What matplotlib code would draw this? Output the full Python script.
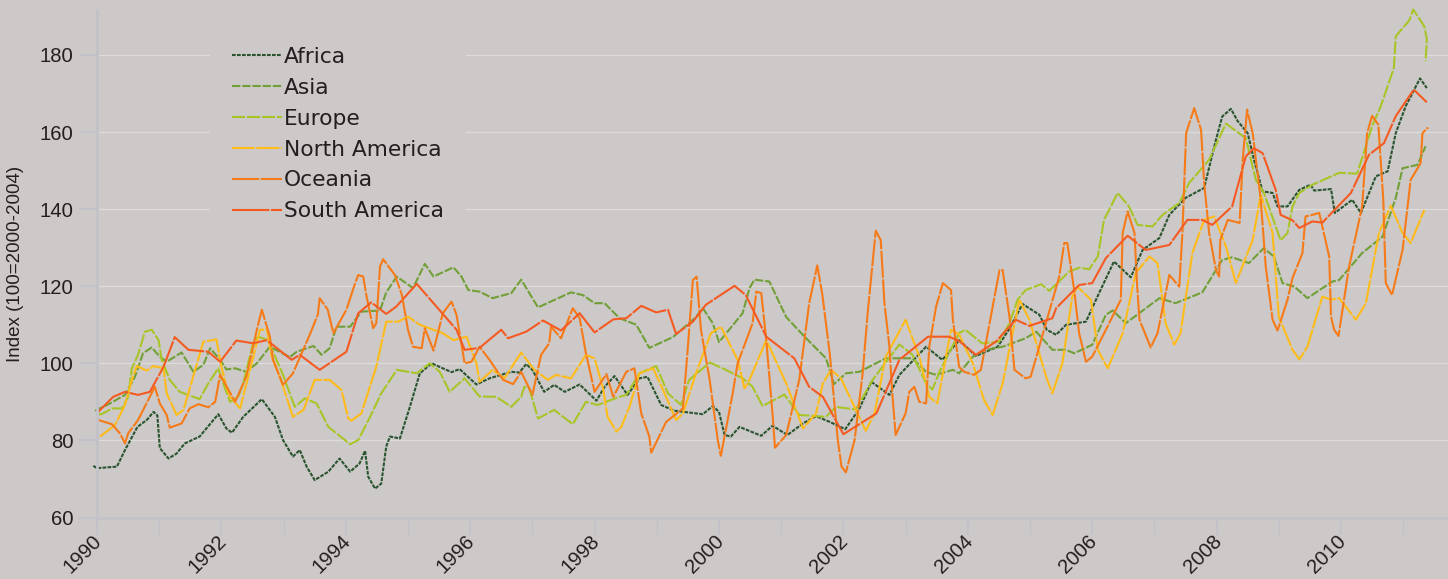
import matplotlib
matplotlib.use("Agg")
import matplotlib.pyplot as plt
from matplotlib.transforms import ScaledTranslation

africa_x = [1989.94,1990.0,1990.32,1990.45,1990.65,1990.8,1990.91,1990.97,1991.01,1991.15,1991.28,1991.41,1991.65,1991.95,1992.08,1992.17,1992.35,1992.65,1992.86,1992.99,1993.15,1993.26,1993.37,1993.5,1993.72,1993.9,1994.07,1994.22,1994.31,1994.36,1994.47,1994.57,1994.65,1994.71,1994.87,1995.03,1995.19,1995.38,1995.56,1995.7,1995.83,1996.1,1996.31,1996.66,1996.79,1996.9,1997.0,1997.19,1997.35,1997.52,1997.76,1998.03,1998.16,1998.32,1998.53,1998.72,1998.85,1999.07,1999.28,1999.74,1999.9,2000.0,2000.09,2000.19,2000.33,2000.68,2000.86,2001.1,2001.35,2001.56,2001.78,2002.03,2002.26,2002.45,2002.74,2002.9,2003.33,2003.59,2003.86,2004.13,2004.48,2004.67,2004.88,2005.15,2005.27,2005.42,2005.58,2005.9,2006.11,2006.35,2006.62,2006.81,2007.08,2007.24,2007.5,2007.8,2007.99,2008.09,2008.23,2008.34,2008.5,2008.6,2008.74,2008.9,2008.98,2009.14,2009.33,2009.51,2009.57,2009.84,2009.9,2010.18,2010.32,2010.56,2010.75,2010.88,2011.04,2011.27,2011.38]
africa_y = [73.4,72.8,73.2,77.5,83.5,85.3,87.4,86.5,78,75.3,76.6,79.2,81,86.8,83.1,82,86.1,90.7,86.1,80.1,75.8,77.5,73.2,69.7,71.9,75.3,71.9,74,77.3,70.6,67.5,68.8,78.4,81,80.5,88.7,97.4,100,98.7,97.7,98.5,94.5,96.1,97.8,97.6,99.8,98.3,92.6,94.4,92.6,94.5,90.3,93.9,96.7,91.8,96.1,96.5,89.2,87.7,86.8,88.9,87.4,81.4,81,83.5,81.2,83.8,81.4,84.4,86.3,84.8,82.9,88.3,95.2,91.8,97,104.3,100.9,106,101.9,104.3,109,115.4,112.6,108.7,107.4,110,110.8,118.2,126.4,122.3,129.4,132.5,138.5,142.9,145.5,158,164,166,162.8,159.7,152.8,144.6,144.2,140.7,140.7,145,146.3,144.8,145.2,139,142.4,139,148.5,149.8,159.7,166.7,173.9,171.4]

asia_x = [1989.97,1990.21,1990.45,1990.61,1990.74,1990.88,1991.01,1991.12,1991.36,1991.55,1991.71,1991.82,1991.98,1992.08,1992.22,1992.4,1992.57,1992.78,1993.1,1993.21,1993.48,1993.61,1993.74,1993.85,1994.07,1994.25,1994.55,1994.65,1994.82,1995.08,1995.27,1995.41,1995.73,1995.86,1995.97,1996.15,1996.36,1996.66,1996.82,1997.09,1997.62,1997.81,1998.0,1998.16,1998.4,1998.67,1998.88,1999.26,1999.63,1999.74,1999.9,2000.0,2000.38,2000.49,2000.57,2000.81,2001.08,2001.37,2001.56,2001.72,2001.85,2002.04,2002.26,2002.68,2003.11,2003.33,2003.49,2003.76,2003.86,2004.08,2004.29,2004.56,2004.93,2005.1,2005.36,2005.58,2005.71,2006.0,2006.22,2006.33,2006.54,2007.08,2007.34,2007.77,2008.09,2008.25,2008.52,2008.76,2008.92,2009.06,2009.25,2009.46,2009.86,2009.97,2010.34,2010.67,2010.88,2010.99,2011.23,2011.36]
asia_y = [87.7,89.6,91.8,96.5,102.6,104.1,101.7,100.4,102.8,97.8,99.6,103.9,100.9,98.4,98.7,97.8,100,104.3,101.6,103,104.5,102.2,103.9,109.5,109.5,113.4,113.7,118.4,122.5,119.5,125.8,122.5,124.9,122.5,119,118.6,116.9,118.2,121.7,114.5,118.4,117.7,115.6,115.6,111.7,110,104,106.8,112,114.3,110.4,105.5,113,119.5,121.7,121.2,112,107,103.9,101.3,94.6,97.4,97.8,101.3,101.3,97.8,97,98.3,97.4,101.7,103.5,104.3,106.5,108.2,103.5,103.5,102.6,104.8,112.6,113.7,110.4,116.9,115.6,118.4,126.8,127.5,126,129.9,127.7,120.8,119.9,116.9,121.2,121.6,128.6,132.9,142.9,150.6,151.5,156.3]

europe_x = [1990.02,1990.1,1990.24,1990.4,1990.5,1990.56,1990.66,1990.77,1990.88,1990.99,1991.04,1991.17,1991.33,1991.65,1991.79,1991.95,1992.0,1992.14,1992.27,1992.35,1992.51,1992.59,1992.75,1992.99,1993.18,1993.34,1993.53,1993.72,1994.07,1994.2,1994.39,1994.57,1994.82,1995.14,1995.35,1995.51,1995.67,1995.91,1996.15,1996.42,1996.66,1996.82,1996.87,1996.95,1997.09,1997.35,1997.65,1997.86,1998.05,1998.4,1998.51,1998.72,1998.99,1999.18,1999.39,1999.52,1999.85,2000.06,2000.38,2000.54,2000.7,2001.05,2001.29,2001.72,2001.88,2002.2,2002.47,2002.9,2003.11,2003.33,2003.43,2003.56,2003.86,2003.96,2004.23,2004.5,2004.67,2004.8,2004.93,2005.18,2005.31,2005.63,2005.79,2005.95,2006.09,2006.19,2006.41,2006.59,2006.73,2006.97,2007.13,2007.4,2007.56,2007.88,2008.15,2008.47,2008.63,2008.76,2009.03,2009.14,2009.22,2009.33,2009.54,2009.97,2010.26,2010.5,2010.64,2010.85,2010.88,2011.1,2011.16,2011.34,2011.38,2011.36]
europe_y = [86.6,87,88.3,88.3,91.3,98.7,102.2,108.2,108.7,106,100.9,95.7,92.6,90.7,94.8,98.7,96.1,90,91.3,94.8,105.2,106.9,106,97,88.7,90.9,89.6,83.5,79,80.1,86.1,92.2,98.3,97.4,100,97.8,92.6,96.1,91.4,91.3,88.7,91.3,93.9,93.5,85.7,87.9,84.2,90,89.2,91.3,91.8,97.4,99.3,92.2,89.2,95.7,100.2,98.7,96.1,93.9,88.9,91.9,86.6,86.1,88.7,88,95.7,104.9,102.2,94.8,93.2,98.3,107.8,108.7,105.2,105.6,110.4,116.5,119,120.5,118.8,123.8,124.8,124.4,127.7,137.2,144.2,140.7,135.9,135.5,138.5,141.6,146.8,152.8,162.2,158.4,147.6,144.2,131.9,133.8,140.7,144.2,146.3,149.4,149.2,161.5,166.7,176.6,184.8,189,191.8,187.4,184,178.4]

north_america_x = [1990.05,1990.29,1990.45,1990.56,1990.64,1990.8,1990.91,1991.07,1991.12,1991.28,1991.39,1991.71,1991.92,1992.0,1992.08,1992.14,1992.3,1992.46,1992.62,1992.73,1992.81,1992.94,1993.15,1993.32,1993.5,1993.74,1993.93,1994.04,1994.09,1994.25,1994.49,1994.65,1994.84,1995.0,1995.19,1995.56,1995.73,1995.94,1996.1,1996.15,1996.36,1996.55,1996.82,1997.03,1997.25,1997.38,1997.62,1997.86,1998.0,1998.13,1998.21,1998.35,1998.43,1998.56,1998.72,1998.94,1999.09,1999.31,1999.42,1999.63,1999.87,2000.03,2000.3,2000.41,2000.49,2000.76,2001.08,2001.35,2001.56,2001.67,2001.8,2001.96,2002.36,2002.5,2002.68,2003.0,2003.22,2003.38,2003.51,2003.73,2003.86,2004.08,2004.26,2004.4,2004.56,2004.72,2004.83,2004.99,2005.26,2005.36,2005.52,2005.68,2005.76,2005.98,2006.09,2006.25,2006.49,2006.7,2006.92,2007.05,2007.18,2007.32,2007.42,2007.61,2007.8,2007.96,2008.15,2008.31,2008.58,2008.71,2008.9,2009.0,2009.22,2009.33,2009.46,2009.7,2009.84,2009.97,2010.24,2010.4,2010.61,2010.8,2010.99,2011.12,2011.34]
north_america_y = [81,84,89.2,95.7,99.3,98.1,99.3,98.7,92.2,86.6,87.9,105.6,106.2,99.1,93.9,91.3,88.3,98.3,108.7,108.8,101.7,96.5,86.1,87.9,95.7,95.7,93.1,85.7,85.1,87,99.1,110.8,110.8,112.1,110,107.8,106,106.9,100,95.2,98.3,96.1,102.8,98.3,95.7,97,96.1,102.2,101.3,93.9,86.1,82.3,83.5,88.7,97.4,98.7,93.5,85.3,87,97.4,107.8,109.5,100.9,93.5,95.7,106,94.8,83.1,87,94.8,98.3,96.1,82.5,87,101.7,111.3,101.7,91.3,89.6,108.7,107.5,100,90.5,86.6,94.8,107.8,116.5,111.3,96.5,92.2,100,117.3,119.9,116.5,103.5,98.7,107.8,123.4,127.7,126,110.4,104.8,107.8,128.6,137.2,138.1,130.3,120.8,132,143.7,133.8,112.1,103.5,101,104.3,117.3,116.5,116.9,111.3,115.6,133.8,140.9,133.8,131.2,139.8]

oceania_x = [1990.02,1990.24,1990.37,1990.45,1990.5,1990.66,1990.93,1991.01,1991.12,1991.17,1991.36,1991.49,1991.63,1991.79,1991.9,1991.98,1992.22,1992.4,1992.57,1992.65,1992.78,1992.83,1992.99,1993.15,1993.42,1993.55,1993.58,1993.71,1993.8,1994.01,1994.15,1994.2,1994.28,1994.33,1994.44,1994.49,1994.55,1994.6,1994.79,1994.9,1995.0,1995.08,1995.22,1995.27,1995.41,1995.56,1995.7,1995.78,1995.91,1996.02,1996.15,1996.31,1996.53,1996.69,1996.82,1997.0,1997.14,1997.27,1997.3,1997.46,1997.65,1997.76,1997.86,1998.0,1998.19,1998.3,1998.51,1998.64,1998.75,1998.88,1998.91,1999.15,1999.42,1999.5,1999.58,1999.64,1999.71,1999.85,1999.98,2000.03,2000.22,2000.3,2000.54,2000.6,2000.68,2000.76,2000.86,2000.9,2001.08,2001.29,2001.45,2001.58,2001.66,2001.72,2001.78,2001.91,2001.97,2002.04,2002.18,2002.31,2002.39,2002.52,2002.6,2002.66,2002.74,2002.79,2002.84,2003.0,2003.06,2003.14,2003.22,2003.33,2003.38,2003.49,2003.6,2003.73,2003.76,2003.86,2003.94,2004.1,2004.21,2004.35,2004.51,2004.56,2004.67,2004.75,2004.93,2005.01,2005.47,2005.55,2005.6,2005.71,2005.79,2005.9,2006.0,2006.22,2006.46,2006.49,2006.57,2006.68,2006.72,2006.76,2006.94,2007.05,2007.18,2007.24,2007.4,2007.45,2007.51,2007.64,2007.75,2007.8,2007.88,2007.99,2008.04,2008.06,2008.18,2008.37,2008.42,2008.49,2008.58,2008.71,2008.79,2008.9,2008.98,2009.14,2009.22,2009.38,2009.43,2009.54,2009.65,2009.81,2009.84,2009.89,2009.96,2010.13,2010.34,2010.42,2010.5,2010.6,2010.68,2010.72,2010.82,2010.99,2011.12,2011.28,2011.31,2011.4]
oceania_y = [85.3,84.2,81.8,79.2,81.8,85.3,93.9,89.6,86.6,83.3,84.4,88.3,89.4,88.6,90,97,90,96.5,108.7,113.9,106.9,100.9,94.4,97.4,107.4,112.6,116.9,113.9,107.8,113.9,120.8,122.9,122.5,117.7,109.1,110.4,125.1,127,122.9,117.8,108.7,104.3,103.9,109.1,103.3,113,116,112.6,100,100.4,104.3,100.9,95.7,94.6,97.8,91.8,102.2,105.2,109.5,106.5,114.3,111.7,102.6,92.6,97.2,91.3,97.8,98.7,87,81,76.8,84.8,88.3,104.3,121.6,122.5,108.7,95.7,80.1,76,92.2,100,110.4,118.6,118.2,106,87,78.1,81.4,95.7,115.6,125.4,118,110.4,102.6,80.1,73.2,71.7,80.1,97.4,113,134.4,132,115.6,104.3,91.3,81.4,87,92.6,93.9,90,89.6,104.3,114.7,120.8,119,111.3,99.1,97.8,97,98.3,110.4,124.2,124.2,112.1,98.3,96.1,96.5,122.5,131.2,131.2,119,107.8,100.4,101.7,108.7,116.5,133.8,139.4,133.8,120.8,111.3,104.1,107.8,118.2,122.9,119.9,133.8,159.7,166.2,160.6,146.8,133.8,124.2,122.5,132,137.2,136.4,152.8,165.8,159.7,142.4,125.1,111.3,108.5,116.5,122.1,128.6,138.1,138.5,139,127.7,112.1,108.7,107.1,125.1,140.7,159.7,164.2,161.9,142.4,120.8,117.7,129.4,147.6,151.9,159.7,161.2]

south_america_x = [1990.02,1990.26,1990.45,1990.66,1990.85,1991.07,1991.25,1991.47,1991.79,1991.98,1992.24,1992.51,1992.73,1993.13,1993.26,1993.58,1994.01,1994.2,1994.41,1994.65,1994.81,1995.14,1995.41,1995.78,1995.91,1996.15,1996.5,1996.61,1996.9,1997.17,1997.46,1997.76,1998.0,1998.3,1998.51,1998.75,1998.99,1999.18,1999.31,1999.58,1999.79,2000.25,2000.43,2000.76,2001.21,2001.45,2001.67,2002.0,2002.53,2002.9,2003.36,2003.7,2003.86,2004.13,2004.45,2004.77,2004.99,2005.36,2005.42,2005.79,2006.0,2006.22,2006.57,2006.86,2007.24,2007.53,2007.77,2007.93,2008.25,2008.47,2008.6,2008.74,2008.95,2009.03,2009.22,2009.33,2009.54,2009.7,2010.16,2010.45,2010.69,2010.88,2011.17,2011.38]
south_america_y = [87.4,91.3,92.6,91.8,92.6,99.1,106.8,103.5,103,100.4,105.9,105.2,106,100.9,102.2,98.3,103,113,115.8,112.8,114.7,120.6,115.6,108.7,103.5,104,108.7,106.5,108.2,111.1,108.5,113,108,111.4,111.7,114.9,113.2,113.9,107.6,110.8,115.2,120.1,117.7,106.9,101.3,93.9,91.3,81.6,87,100.9,106.9,106.9,105.8,102.2,105.6,111.3,109.7,111.7,114.3,120.3,120.8,127.3,133.1,129.4,130.7,137.2,137.2,135.9,140.7,153.7,155.8,154.5,145,138.5,137.1,135.1,136.8,136.5,144.2,154.1,157.1,164.1,171,167.7]

series_names = ["Africa", "Asia", "Europe", "North America", "Oceania", "South America"]
series_x = [africa_x, asia_x, europe_x, north_america_x, oceania_x, south_america_x]
series_y = [africa_y, asia_y, europe_y, north_america_y, oceania_y, south_america_y]
colors = ["#2a5530", "#72a038", "#a8c528", "#ffbb18", "#f67a18", "#f55a22"]
dashes = [(1.8, 0.6), (4.0, 0.9), (6.3, 0.9), (11.0, 0.7), (13.0, 0.7), (18.0, 0.7)]

y_ticks = [60, 80, 100, 120, 140, 160, 180]
x_major = list(range(1990, 2011, 2))
x_minor = list(range(1991, 2012, 2))
BG = "#cdc9c8"
AXIS = "#c2c2c8"
GRID = "#dedcdb"
TEXT = "#231f20"

W, H = 1448, 579
fig = plt.figure(figsize=(W / 100, H / 100), dpi=100, facecolor=BG)
ax = fig.add_axes([97 / W, 1 - 517.5 / H, (W - 97) / W, 507.5 / H], facecolor=BG)
ax.set_xlim(1990, 1990 + (W - 97) / 62.2)
ax.set_ylim(60, 60 + 507.5 / 3.855)

for s in ["top", "right"]:
    ax.spines[s].set_visible(False)
ax.spines["left"].set_color(AXIS)
ax.spines["left"].set_linewidth(2.0)
ax.spines["bottom"].set_color(AXIS)
ax.spines["bottom"].set_linewidth(2.0)

ax.set_axisbelow(True)
ax.yaxis.grid(True, color=GRID, lw=0.9)
ax.set_yticks(y_ticks)
ax.set_xticks(x_major)
ax.set_xticks(x_minor, minor=True)
ax.tick_params(axis="y", length=13, width=1.6, color=AXIS, pad=4, labelsize=14.6,
               labelcolor=TEXT, labelfontfamily="Liberation Sans")
ax.tick_params(axis="x", which="major", length=12, width=1.5, color=AXIS, pad=-2, labelsize=14.6,
               labelcolor=TEXT, labelfontfamily="Liberation Sans")
ax.tick_params(axis="x", which="minor", length=12, width=0.8, color=AXIS)
offset = ScaledTranslation(-3.5 / 72, 0, fig.dpi_scale_trans)
for lab in ax.get_xticklabels():
    lab.set_rotation(45)
    lab.set_ha("right")
    lab.set_va("top")
    lab.set_rotation_mode("anchor")
    lab.set_transform(lab.get_transform() + offset)

fig.text(16 / W, 1 - 263.5 / H, "Index (100=2000-2004)", rotation=90, ha="center", va="center",
         fontsize=13.5, color=TEXT, family="Liberation Sans")

for name, xs, ys, col, d in zip(series_names, series_x, series_y, colors, dashes):
    ax.plot(xs, ys, color=col, lw=1.5, linestyle=(0, d), label=name, clip_on=False,
            dash_joinstyle="round", dash_capstyle="butt")

leg = ax.legend(loc="upper left", bbox_to_anchor=((210 - 97) / (W - 97), (517.5 - 25) / 507.5),
                borderaxespad=0, frameon=True, facecolor=BG, edgecolor="none", framealpha=1,
                fancybox=False, handlelength=2.3, handletextpad=0.08,
                labelspacing=0.5, borderpad=1.0,
                prop={"family": "DejaVu Sans", "size": 15.7})
for t in leg.get_texts():
    t.set_color(TEXT)

fig.savefig("out.png", dpi=100, facecolor=BG)
